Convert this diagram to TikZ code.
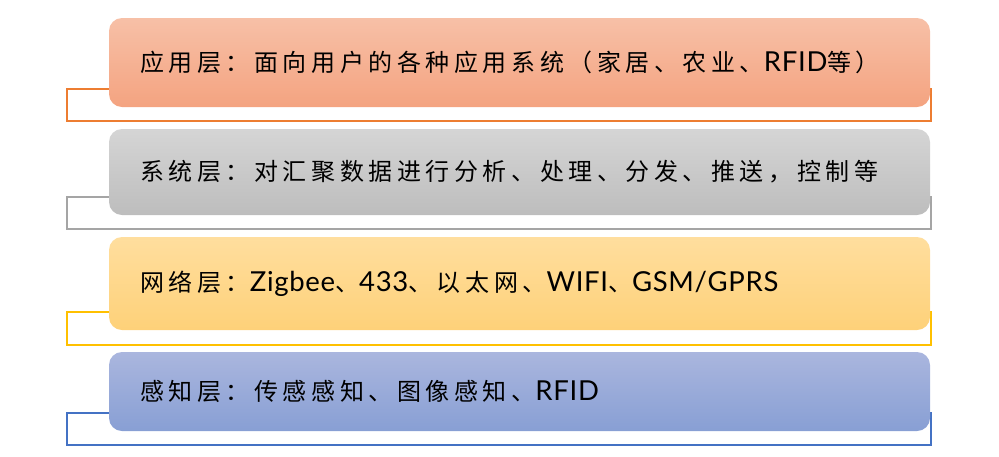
\documentclass[tikz,border=0pt]{standalone}
\usepackage{fontspec}
\setmainfont{Lato}[LetterSpace=2.5]
\newfontfamily\cjkfont[LetterSpace=19]{Noto Sans CJK SC}
\newcommand\zhtxt[1]{{\fontsize{24}{30}\selectfont\cjkfont #1}}
\definecolor{orline}{RGB}{237,125,49}
\definecolor{ortop}{RGB}{247,192,167}
\definecolor{orbot}{RGB}{244,163,128}
\definecolor{grline}{RGB}{165,165,165}
\definecolor{grtop}{RGB}{213,213,213}
\definecolor{grbot}{RGB}{189,189,189}
\definecolor{ylline}{RGB}{255,192,0}
\definecolor{yltop}{RGB}{255,222,158}
\definecolor{ylbot}{RGB}{254,209,121}
\definecolor{blline}{RGB}{68,114,196}
\definecolor{bltop}{RGB}{170,182,222}
\definecolor{blbot}{RGB}{136,159,212}
\tikzset{
  outlinebox/.style={line width=2pt},
  layerbox/.style={rounded corners=13pt},
  layertext/.style={anchor=west, inner sep=0pt, font=\fontsize{27.5}{30}\selectfont, text=black}
}
\begin{document}
\begin{tikzpicture}[x=1pt,y=-1pt]
\useasboundingbox (0,0) rectangle (999,456);
% layer 1
\draw[outlinebox, orline] (67,89) rectangle (931,121);
\shade[layerbox, top color=ortop, bottom color=orbot] (109,18) rectangle (930,107);
\node[layertext] (t1) at (140,62.5) {\zhtxt{应用层：面向用户的各种应用系统（家居、农业、}RFID\zhtxt{等）}};
% layer 2
\draw[outlinebox, grline] (67,197) rectangle (931,229);
\shade[layerbox, top color=grtop, bottom color=grbot] (109,129) rectangle (930,215);
\node[layertext] (t2) at (140,172) {\zhtxt{系统层：对汇聚数据进行分析、处理、分发、推送，控制等}};
% layer 3
\draw[outlinebox, ylline] (67,312) rectangle (931,345);
\shade[layerbox, top color=yltop, bottom color=ylbot] (109,237) rectangle (930,330);
\node[layertext] (t3) at (140,283.5) {\zhtxt{网络层：}Zigbee\zhtxt{、}433\zhtxt{、以太网、}WIFI\zhtxt{、}GSM/GPRS};
% layer 4
\draw[outlinebox, blline] (67,413) rectangle (931,445);
\shade[layerbox, top color=bltop, bottom color=blbot] (109,352) rectangle (930,431);
\node[layertext] (t4) at (140,391.5) {\zhtxt{感知层：传感感知、图像感知、}RFID};
\end{tikzpicture}
\end{document}
